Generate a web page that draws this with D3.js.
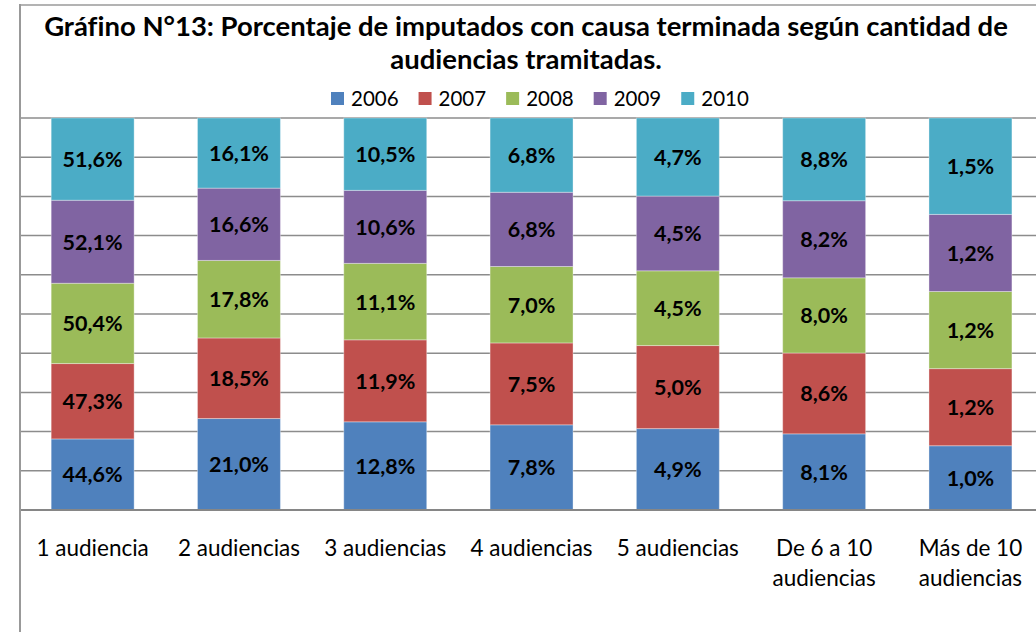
<!DOCTYPE html>
<html>
<head>
<meta charset="utf-8">
<script src="https://cdn.jsdelivr.net/npm/d3@7"></script>
<style>
  body { margin: 0; background: #fff; }
  svg { display: block; font-family: Lato, "Open Sans", sans-serif; font-variant-ligatures: none; }
</style>
</head>
<body>
<div id="chart"></div>
<script>
// data
const categories = ['1 audiencia', '2 audiencias', '3 audiencias', '4 audiencias',
  '5 audiencias', 'De 6 a 10 audiencias', 'Más de 10 audiencias']
const years = ['2006', '2007', '2008', '2009', '2010']
const v2006 = [44.6, 21.0, 12.8, 7.8, 4.9, 8.1, 1.0]
const v2007 = [47.3, 18.5, 11.9, 7.5, 5.0, 8.6, 1.2]
const v2008 = [50.4, 17.8, 11.1, 7.0, 4.5, 8.0, 1.2]
const v2009 = [52.1, 16.6, 10.6, 6.8, 4.5, 8.2, 1.2]
const v2010 = [51.6, 16.1, 10.5, 6.8, 4.7, 8.8, 1.5]
const seriesValues = [v2006, v2007, v2008, v2009, v2010]
const colors = ['#4F81BD', '#C0504D', '#9BBB59', '#8064A2', '#4BACC6']
const titleLines = ['Gráfino N°13: Porcentaje de imputados con causa terminada según cantidad de',
  'audiencias tramitadas.']

const width = 1036
const height = 632

const rows = categories.map((c, i) => {
  const r = {cat: c}
  years.forEach((yr, j) => { r[yr] = seriesValues[j][i] })
  return r
})

const stack = d3.stack().keys(years).offset(d3.stackOffsetExpand)
const series = stack(rows)

const x = d3.scaleBand()
  .domain(categories)
  .range([19.5, 19.5 + 7 * 146.3])
  .paddingInner(0.433)
  .paddingOuter(0.2165)

const y = d3.scaleLinear().domain([0, 1]).range([510, 118])

const svg = d3.select('#chart').append('svg')
  .attr('width', width)
  .attr('height', height)

// chart border (top + left)
svg.append('line').attr('x1', 20).attr('x2', width).attr('y1', 5).attr('y2', 5)
  .attr('stroke', '#b3b3b3').attr('stroke-width', 2)

// gridlines
svg.append('g')
  .selectAll('line')
  .data(y.ticks(10).filter(d => d > 0))
  .join('line')
    .attr('x1', 20).attr('x2', width)
    .attr('y1', d => y(d)).attr('y2', d => y(d))
    .attr('stroke', '#8c8c8c').attr('stroke-width', 1.5)

// bars
const groups = svg.append('g')
  .selectAll('g')
  .data(series)
  .join('g')
    .attr('fill', (d, i) => colors[i])

groups.selectAll('rect')
  .data(d => d)
  .join('rect')
    .attr('x', d => x(d.data.cat))
    .attr('width', x.bandwidth())
    .attr('y', d => y(d[1]))
    .attr('height', d => y(d[0]) - y(d[1]))
    .attr('stroke', 'rgba(255,255,255,0.35)')
    .attr('stroke-width', 1)

// data labels
const fmt = v => v.toFixed(1).replace('.', ',') + '%'
series.forEach((s, i) => {
  svg.append('g')
    .selectAll('text')
    .data(s)
    .join('text')
      .attr('x', d => x(d.data.cat) + x.bandwidth() / 2)
      .attr('y', d => (y(d[0]) + y(d[1])) / 2 + 8)
      .attr('text-anchor', 'middle')
      .attr('font-size', 21.5)
      .attr('font-weight', 'bold')
      .attr('fill', '#000')
      .text(d => fmt(d.data[years[i]]))
})

// axes lines
svg.append('line').attr('x1', 20).attr('x2', width).attr('y1', 510).attr('y2', 510)
  .attr('stroke', '#868686').attr('stroke-width', 2)
svg.append('line').attr('x1', 20).attr('x2', 20).attr('y1', 4).attr('y2', height)
  .attr('stroke', '#999').attr('stroke-width', 2)

// category labels, wrapped to the band
const catText = svg.append('g')
  .selectAll('text')
  .data(categories)
  .join('text')
    .attr('text-anchor', 'middle')
    .attr('font-size', 22.5)
    .attr('fill', '#000')
    .attr('x', d => x(d) + x.bandwidth() / 2)
    .attr('y', 556)

catText.each(function(d) {
  const t = d3.select(this)
  const words = d.split(' ')
  const maxW = x.step() * 0.92
  let line = []
  let lines = []
  words.forEach(w => {
    const test = line.concat(w).join(' ')
    t.text(test)
    if (this.getComputedTextLength() > maxW && line.length) {
      lines.push(line.join(' '))
      line = [w]
    } else {
      line.push(w)
    }
  })
  lines.push(line.join(' '))
  t.text(null)
  lines.forEach((l, k) => {
    t.append('tspan')
      .attr('x', x(d) + x.bandwidth() / 2)
      .attr('dy', k === 0 ? 0 : 29.5)
      .text(l)
  })
})

// title, fitted to the width it has in the picture
const title = svg.append('g')
titleLines.forEach((l, i) => {
  const t = title.append('text')
    .attr('x', 526)
    .attr('y', 36 + i * 33)
    .attr('text-anchor', 'middle')
    .attr('font-weight', 'bold')
    .attr('font-size', 26)
    .attr('fill', '#000')
    .text(l)
  if (i === 0) {
    const w = t.node().getComputedTextLength()
    const fs = 26 * 964 / w
    title.selectAll('text').attr('font-size', fs)
    title.attr('data-fs', fs)
  } else {
    t.attr('font-size', title.attr('data-fs'))
  }
})

// legend
const legend = svg.append('g')
let lx = 331
years.forEach((yr, i) => {
  legend.append('rect')
    .attr('x', lx).attr('y', 92)
    .attr('width', 13).attr('height', 13)
    .attr('fill', colors[i])
  const t = legend.append('text')
    .attr('x', lx + 20).attr('y', 106)
    .attr('font-size', 20.5)
    .attr('fill', '#000')
    .text(yr)
  lx += 20 + t.node().getComputedTextLength() + 20
})
</script>
</body>
</html>
